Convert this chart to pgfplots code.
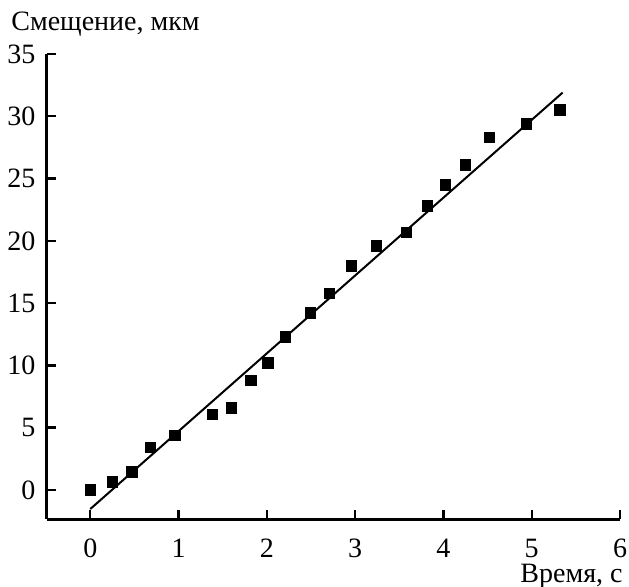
\documentclass[border=0pt]{standalone}
\usepackage{fontspec}
\setmainfont{Liberation Serif}
\usepackage{pgfplots}
\pgfplotsset{compat=1.18}

\begin{document}
\fontsize{14pt}{16pt}\selectfont
\begin{tikzpicture}
\path[use as bounding box] (-23.5pt,-33.5pt) rectangle (291pt,259.5pt);
\begin{axis}[
  at={(0,0)}, anchor=south west,
  scale only axis, width=286.5pt, height=232.5pt,
  xmin=-0.49, xmax=6, ymin=-2.33, ymax=35,
  axis x line*=bottom, axis y line*=left,
  axis line style={line width=1.5pt},
  xtick={0,1,2,3,4,5,6}, ytick={0,5,10,15,20,25,30,35},
  tick align=inside, major tick length=4.5pt,
  tick style={line width=1.2pt, black},
  tick label style={font=\fontsize{14pt}{16pt}\selectfont},
  /pgf/number format/assume math mode=true,
  xticklabel style={yshift=-5pt},
  yticklabel style={xshift=-1pt},
  clip=false,
]
\addplot[only marks, mark=square*, mark size=2.6pt, black] coordinates {
  (0,0) (0.25,0.65) (0.47,1.45) (0.68,3.4) (0.96,4.4)
  (1.38,6.05) (1.6,6.6) (1.82,8.8) (2.01,10.2) (2.21,12.3)
  (2.49,14.2) (2.71,15.8) (2.96,18.0) (3.24,19.6) (3.58,20.7)
  (3.82,22.8) (4.02,24.5) (4.25,26.1) (4.52,28.3) (4.94,29.4)
  (5.32,30.5)};
\addplot[black, line width=1pt] coordinates {(0,-1.53) (5.35,31.9)};
\end{axis}
\node[anchor=base west, inner sep=0pt] at (-18pt,244.5pt) {Смещение, мкм};
\node[anchor=base east, inner sep=0pt] at (288pt,-31.5pt) {Время, с};
\end{tikzpicture}
\end{document}
